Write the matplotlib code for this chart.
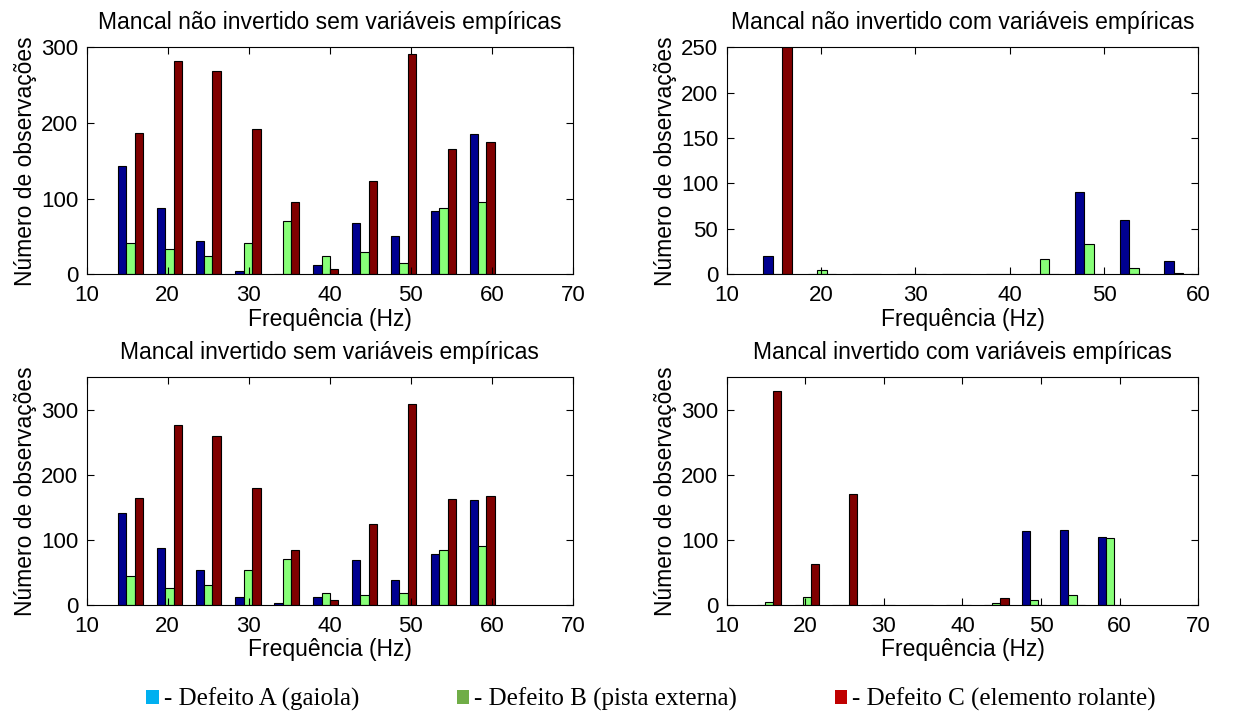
import matplotlib.pyplot as plt
import numpy as np
from matplotlib.patches import Patch

plt.rcParams["font.family"] = ["Liberation Sans", "DejaVu Sans"]

BLUE = "#000090"
GREEN = "#88FF78"
RED = "#800000"

# bin centres (Hz)
freq_a = [15.4, 20.2, 25.0, 29.9, 34.7, 39.5, 44.3, 49.1, 54.0, 58.8]
freq_b = [15.4, 20.1, 24.8, 29.6, 34.3, 39.0, 43.7, 48.4, 53.2, 57.9]

# Mancal não invertido sem variáveis empíricas
ni_sem_a = [143, 87, 44, 5, 0, 12, 68, 51, 84, 185]
ni_sem_b = [41, 34, 24, 41, 70, 24, 30, 15, 88, 96]
ni_sem_c = [187, 282, 268, 192, 95, 7, 123, 291, 165, 175]

# Mancal não invertido com variáveis empíricas
ni_com_a = [20, 0, 0, 0, 0, 0, 0, 91, 60, 15]
ni_com_b = [0, 5, 0, 0, 0, 0, 17, 33, 7, 1]
ni_com_c = [320, 0, 0, 0, 0, 0, 0, 0, 0, 0]

# Mancal invertido sem variáveis empíricas
inv_sem_a = [141, 88, 53, 12, 3, 12, 69, 39, 79, 161]
inv_sem_b = [44, 26, 31, 53, 71, 18, 15, 18, 85, 90]
inv_sem_c = [164, 276, 259, 180, 85, 7, 125, 309, 163, 167]

# Mancal invertido com variáveis empíricas
inv_com_a = [0, 0, 0, 0, 0, 0, 0, 113, 115, 105]
inv_com_b = [5, 12, 0, 0, 0, 0, 3, 7, 16, 103]
inv_com_c = [329, 63, 171, 0, 0, 0, 11, 0, 0, 0]

panels = [
    ("Mancal não invertido sem variáveis empíricas", freq_a,
     (ni_sem_a, ni_sem_b, ni_sem_c), (10, 70), (0, 300), [0, 100, 200, 300]),
    ("Mancal não invertido com variáveis empíricas", freq_b,
     (ni_com_a, ni_com_b, ni_com_c), (10, 60), (0, 250), [0, 50, 100, 150, 200, 250]),
    ("Mancal invertido sem variáveis empíricas", freq_a,
     (inv_sem_a, inv_sem_b, inv_sem_c), (10, 70), (0, 350), [0, 100, 200, 300]),
    ("Mancal invertido com variáveis empíricas", freq_a,
     (inv_com_a, inv_com_b, inv_com_c), (10, 70), (0, 350), [0, 100, 200, 300]),
]

# axes boxes in figure fractions: left, bottom, width, height
boxes = [
    [0.0699, 0.6158, 0.3922, 0.3180],
    [0.5860, 0.6158, 0.3804, 0.3180],
    [0.0699, 0.1527, 0.3922, 0.3189],
    [0.5860, 0.1527, 0.3804, 0.3189],
]

fig = plt.figure(figsize=(12.4, 7.14), dpi=100)
fig.patch.set_facecolor("white")

for (title, freq, series, xlim, ylim, yticks), box in zip(panels, boxes):
    ax = fig.add_axes(box)
    x = np.array(freq)
    w = 0.215 * np.diff(x).mean()
    for k, (vals, col) in enumerate(zip(series, (BLUE, GREEN, RED))):
        ax.bar(x + (k - 1) * w, vals, width=w, color=col,
               edgecolor="black", linewidth=0.8)
    ax.set_xlim(*xlim)
    ax.set_ylim(*ylim)
    ax.set_xticks(np.arange(xlim[0], xlim[1] + 1, 10))
    ax.set_yticks(yticks)
    ax.tick_params(direction="in", top=True, right=True, length=5,
                   width=0.8, labelsize=16)
    ax.tick_params(axis="y", pad=6)
    ax.tick_params(axis="x", pad=8)
    for s in ax.spines.values():
        s.set_linewidth(0.8)
    ax.set_title(title, fontsize=16.5, pad=13)
    ax.set_xlabel("Frequência (Hz)", fontsize=16.5, labelpad=1)
    ax.set_ylabel("Número de observações", fontsize=16.5, labelpad=3)

handles = [Patch(facecolor="#00B0F0"), Patch(facecolor="#70AD47"),
           Patch(facecolor="#C00000")]
labels = ["- Defeito A (gaiola)", "- Defeito B (pista externa)",
          "- Defeito C (elemento rolante)"]
fig.legend(handles, labels, loc="center", bbox_to_anchor=(0.525, 0.02),
           ncol=3, frameon=False, handlelength=0.5, handleheight=0.5,
           handletextpad=0.2, columnspacing=3.9,
           prop={"family": "Liberation Serif", "size": 18})

fig.savefig("out.png", dpi=100, facecolor="white")
